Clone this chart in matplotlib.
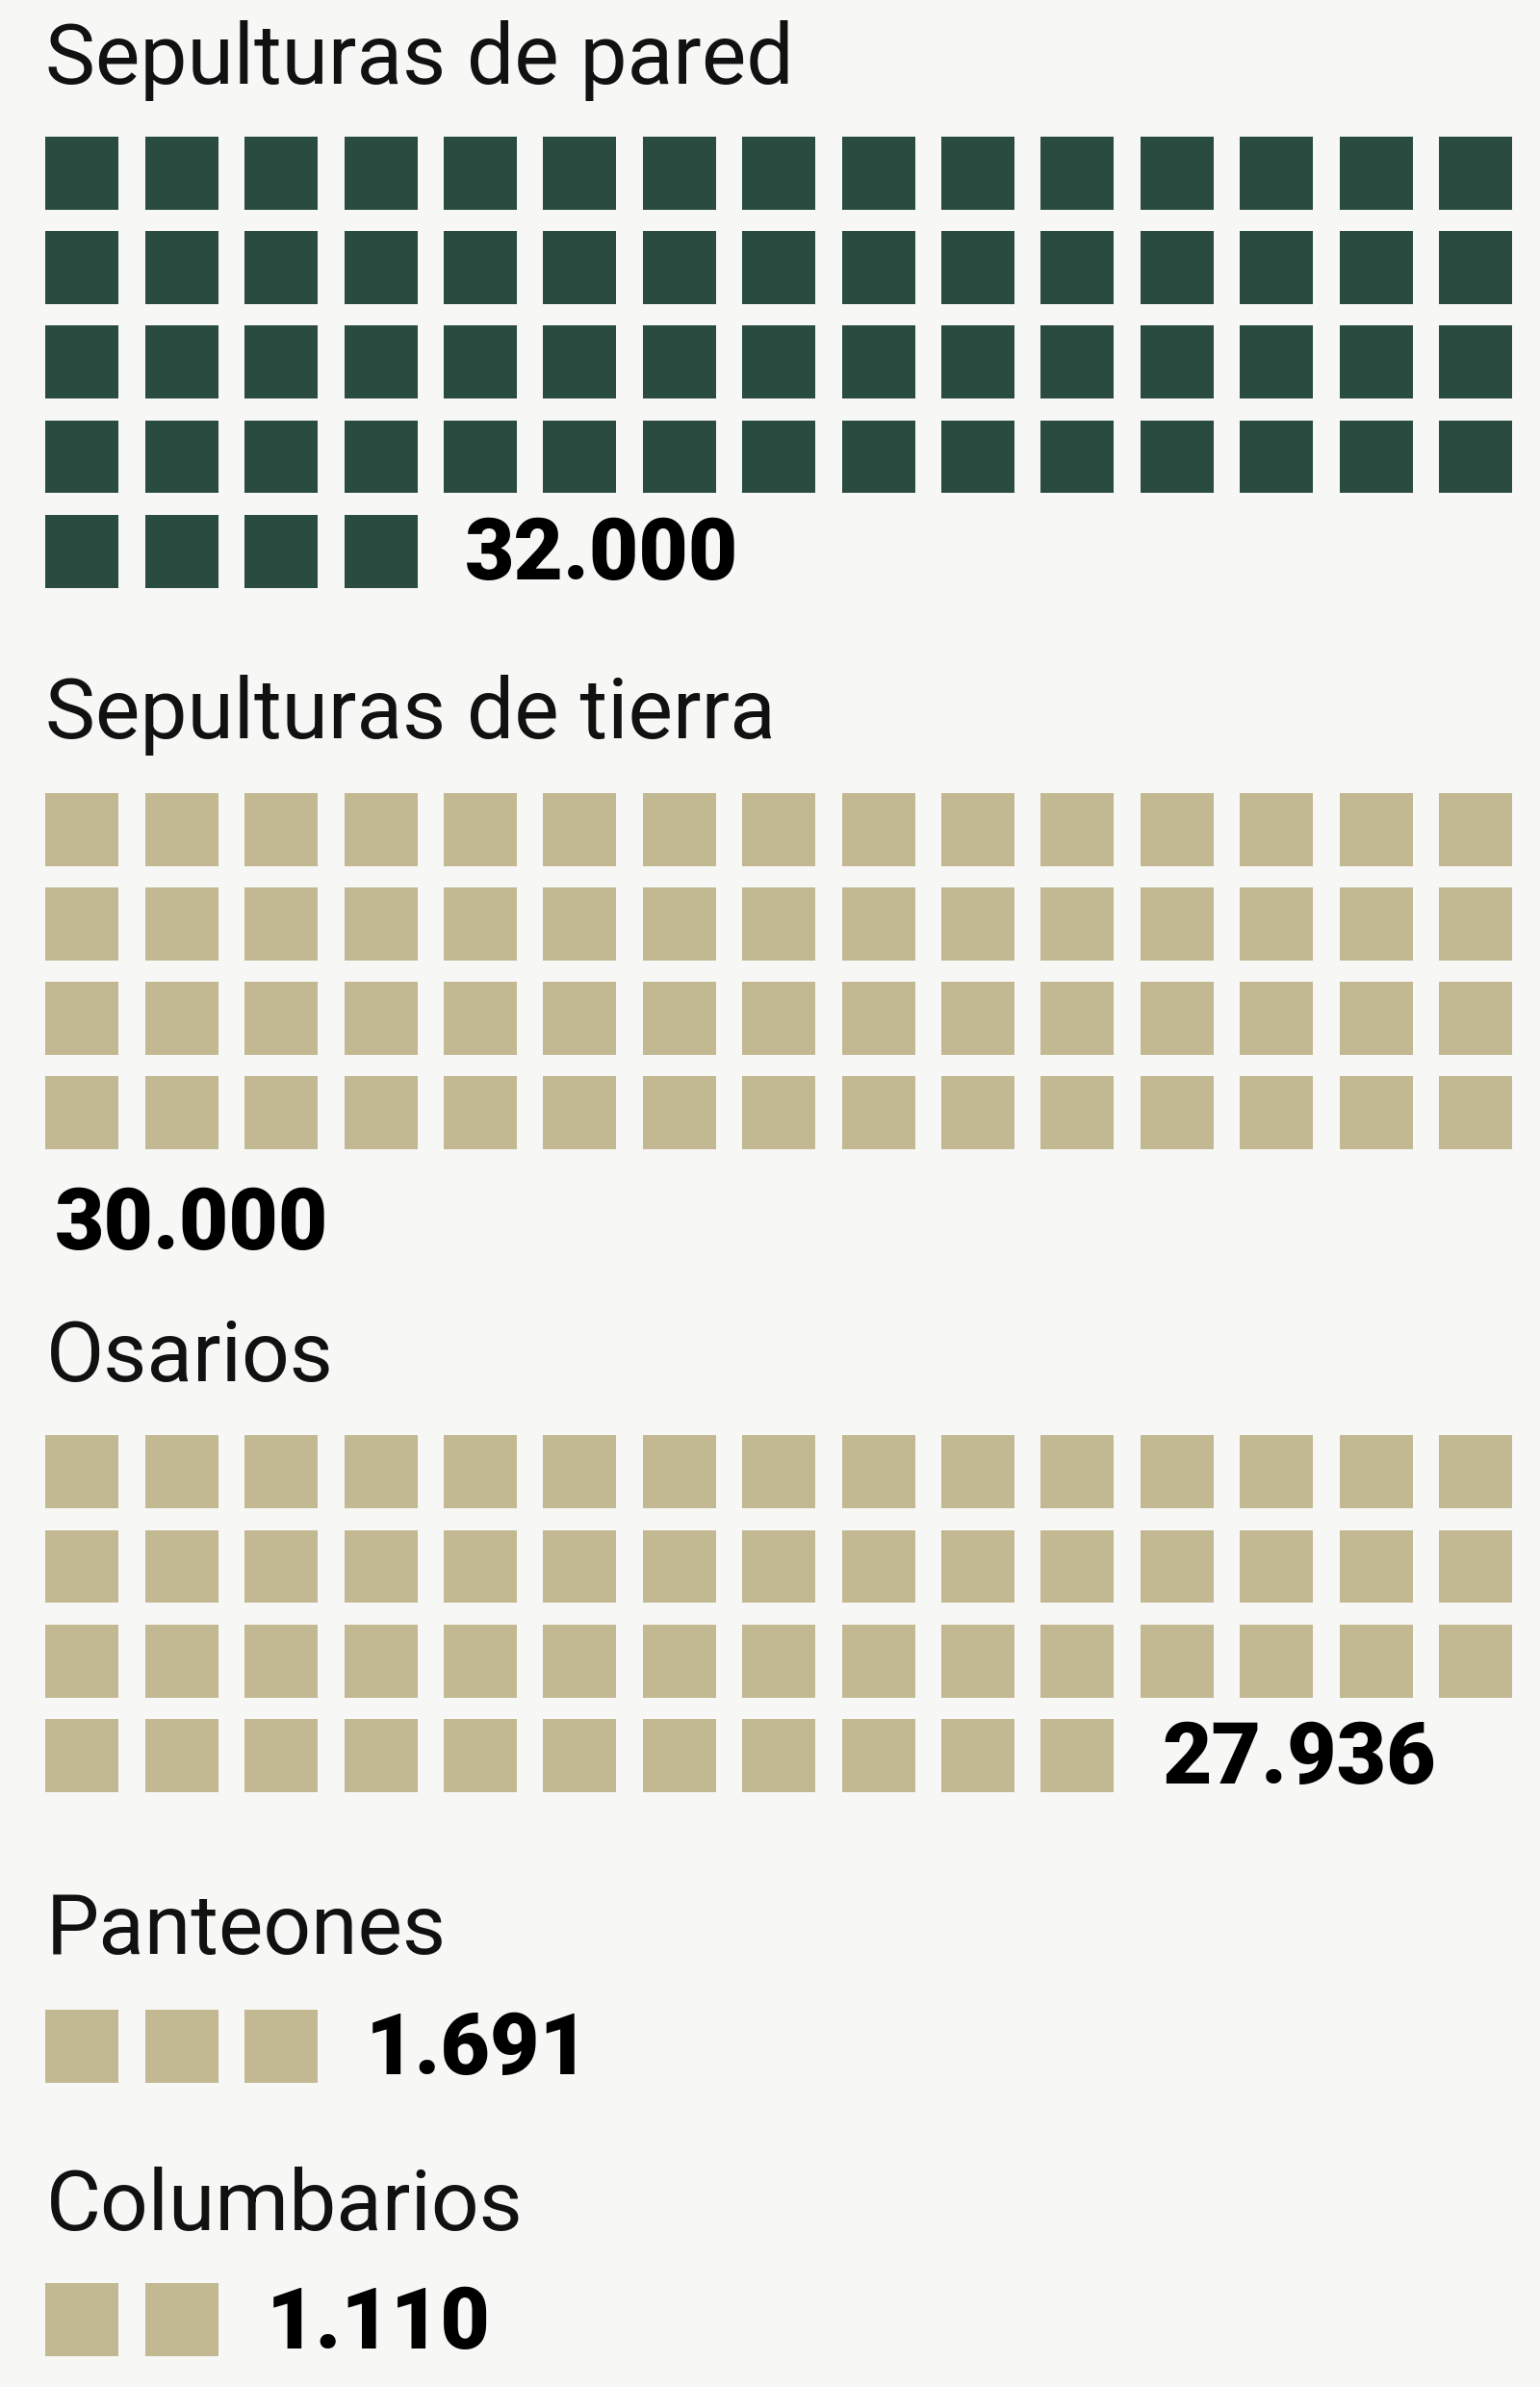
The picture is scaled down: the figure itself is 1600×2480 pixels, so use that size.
import matplotlib.pyplot as plt
from matplotlib.patches import Rectangle

# Waffle: one square = 500 units
categories = ["Sepulturas de pared", "Sepulturas de tierra", "Osarios", "Panteones", "Columbarios"]
values = [32000, 30000, 27936, 1691, 1110]
labels = ["32.000", "30.000", "27.936", "1.691", "1.110"]
squares = [64, 60, 56, 3, 2]
colors = ["#2a4c40", "#c2b891", "#c2b891", "#c2b891", "#c2b891"]

W, H = 1012, 1568
title_y = [40, 470, 892, 1268, 1450]
first_row_y = [90, 521, 943, 1320, 1500]
NCOL = 15
PITCH_X = 65.4
PITCH_Y = 62
SIZE = 48
X0 = 30

plt.rcParams["font.family"] = ["Roboto", "DejaVu Sans"]
fig = plt.figure(figsize=(16, 24.8), dpi=100, facecolor="#f7f7f5")
ax = fig.add_axes([0, 0, 1, 1])
ax.set_xlim(0, W)
ax.set_ylim(H, 0)
ax.axis("off")

for cat, lab, n, col, ty, ry in zip(categories, labels, squares, colors, title_y, first_row_y):
    ax.text(X0, ty, cat, fontsize=63, va="center", ha="left", color="#111111")
    for i in range(n):
        r, c = divmod(i, NCOL)
        ax.add_patch(Rectangle((X0 + c * PITCH_X, ry + r * PITCH_Y), SIZE, SIZE,
                               facecolor=col, edgecolor="none"))
    last_r, last_c = divmod(n - 1, NCOL)
    if last_c == NCOL - 1:
        # label on its own line below a full last row
        lx, ly = X0 + 6, ry + (last_r + 1) * PITCH_Y + SIZE / 2 + 12
    else:
        lx, ly = X0 + (last_c + 1) * PITCH_X + 14, ry + last_r * PITCH_Y + SIZE / 2 + 3
    ax.text(lx, ly, lab, fontsize=64, fontweight="heavy", va="center", ha="left", color="#000000")

fig.savefig("out.png", dpi=100, facecolor=fig.get_facecolor())
